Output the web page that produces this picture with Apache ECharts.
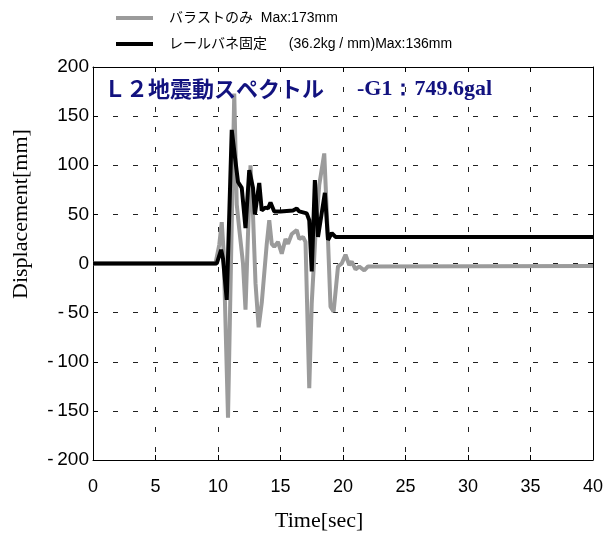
<!DOCTYPE html>
<html>
<head>
<meta charset="utf-8">
<script src="https://cdn.jsdelivr.net/npm/echarts@6/dist/echarts.min.js"></script>
<style>
  html, body { margin: 0; padding: 0; background: #fff; }
  #chart { width: 607px; height: 533px; }
</style>
</head>
<body>
<div id="chart"></div>
<script>
const grayName = "バラストのみ  Max:173mm";
const blackName = "レールバネ固定　  (36.2kg / mm)Max:136mm";

const grayTime = [0, 9.8, 10.1, 10.3, 10.45, 10.8, 11.3, 11.5, 11.7, 12.0, 12.2, 12.4, 12.6, 12.8, 13.0, 13.25, 13.5, 13.7, 13.9, 14.1, 14.3, 14.5, 14.8, 15.1, 15.4, 15.6, 15.9, 16.3, 16.5, 16.8, 17.0, 17.3, 17.5, 17.8, 18.1, 18.5, 18.8, 19.0, 19.25, 19.6, 19.9, 20.2, 20.5, 20.7, 21.0, 21.3, 21.7, 22.0, 40];
const grayDisp = [0, 0, 19, 42, 12, -157, 173, 60, 35, 0, -47, 30, 100, 50, -20, -65, -40, -10, 20, 44, 20, 17, 22, 10, 25, 20, 30, 34, 25, 27, 22, -127, -40, 30, 80, 112, 24, -44, -49, -3, 0, 9, -1.5, 2, -6, -3, -7, -3, -2.5];

const blackTime = [0, 9.9, 10.25, 10.4, 10.7, 11.1, 11.35, 11.6, 11.9, 12.2, 12.5, 12.8, 12.95, 13.3, 13.5, 13.8, 14.0, 14.2, 14.5, 15.0, 16.0, 16.3, 16.5, 17.1, 17.3, 17.5, 17.75, 18.0, 18.55, 18.8, 19.1, 19.4, 40];
const blackDisp = [0, 0, 14, 5, -37, 136, 109, 83, 77, 36, 95, 77, 50, 82, 54, 57, 56, 62, 53, 53, 54, 56, 53, 51, 44, -8, 85, 27, 72, 24, 31, 27, 27];

const xTicks = [0, 5, 10, 15, 20, 25, 30, 35, 40];
const yTicks = [-200, -150, -100, -50, 0, 50, 100, 150, 200];

const chart = echarts.init(document.getElementById("chart"));

const sans = "Liberation Sans, Arial, Noto Sans CJK JP";
const serif = "Liberation Serif, Times New Roman, serif";

const pairs = (ts, vs) => ts.map((t, i) => [t, vs[i]]);

const option = {
  animation: false,
  backgroundColor: "#fff",
  title: {
    left: 99,
    top: 73,
    text: "{a|Ｌ２地震動スペクトル}{b|      -G1：749.6gal}",
    textStyle: {
      rich: {
        a: { fontFamily: "Noto Sans CJK JP", fontWeight: "bold", fontSize: 22, color: "#12127f" },
        b: { fontFamily: serif, fontWeight: "bold", fontSize: 22, color: "#12127f" },
      },
    },
  },
  legend: {
    orient: "vertical",
    left: 111,
    top: 6,
    itemWidth: 37,
    itemHeight: 4,
    itemGap: 12,
    icon: "rect",
    textStyle: { fontFamily: sans, fontSize: 14, color: "#000", padding: [0, 0, 0, 11] },
    data: [grayName, blackName],
  },
  grid: { left: 93, right: 14, top: 67, bottom: 73 },
  xAxis: [
    {
      type: "value",
      min: 0,
      max: 40,
      interval: 5,
      axisLine: { onZero: false, lineStyle: { color: "#000", width: 1 } },
      axisTick: { inside: true, length: 5, lineStyle: { color: "#000" } },
      axisLabel: {
        margin: 18,
        fontFamily: sans,
        fontSize: 18,
        color: "#000",
        formatter: (v) => (xTicks.includes(v) ? String(v) : ""),
      },
      splitLine: { show: true, lineStyle: { color: "#222", type: [5, 15], width: 1 } },
    },
    {
      type: "value",
      position: "top",
      min: 0,
      max: 40,
      interval: 5,
      axisLine: { onZero: false, lineStyle: { color: "#000", width: 1 } },
      axisTick: { inside: true, length: 5, lineStyle: { color: "#000" } },
      axisLabel: { show: false },
      splitLine: { show: false },
    },
  ],
  yAxis: [
    {
      type: "value",
      min: -200,
      max: 200,
      interval: 50,
      axisLine: { show: true, onZero: false, lineStyle: { color: "#000", width: 1 } },
      axisTick: { show: true, inside: true, length: 5, lineStyle: { color: "#000" } },
      axisLabel: {
        margin: 4,
        fontFamily: sans,
        fontSize: 19,
        color: "#000",
        formatter: (v) => (yTicks.includes(v) ? (v < 0 ? "-\u2009" + Math.abs(v) : String(v)) : ""),
      },
      splitLine: { show: true, lineStyle: { color: "#222", type: [5, 15], width: 1 } },
    },
    {
      type: "value",
      position: "right",
      min: -200,
      max: 200,
      interval: 50,
      axisLine: { show: true, onZero: false, lineStyle: { color: "#000", width: 1 } },
      axisTick: { show: true, inside: true, length: 5, lineStyle: { color: "#000" } },
      axisLabel: { show: false },
      splitLine: { show: false },
    },
  ],
  graphic: [
    {
      type: "text",
      left: 275,
      top: 510,
      style: { text: "Time[sec]", font: "22px " + serif, fill: "#000" },
    },
    {
      type: "text",
      x: 10,
      y: 299,
      rotation: Math.PI / 2,
      style: { text: "Displacement[mm]", font: "22px " + serif, fill: "#000" },
    },
  ],
  series: [
    {
      name: grayName,
      type: "line",
      showSymbol: false,
      data: pairs(grayTime, grayDisp),
      lineStyle: { color: "#9b9b9b", width: 4 },
      itemStyle: { color: "#9b9b9b" },
      z: 2,
    },
    {
      name: blackName,
      type: "line",
      showSymbol: false,
      data: pairs(blackTime, blackDisp),
      lineStyle: { color: "#000", width: 4 },
      itemStyle: { color: "#000" },
      z: 3,
    },
  ],
};

chart.setOption(option);
</script>
</body>
</html>
